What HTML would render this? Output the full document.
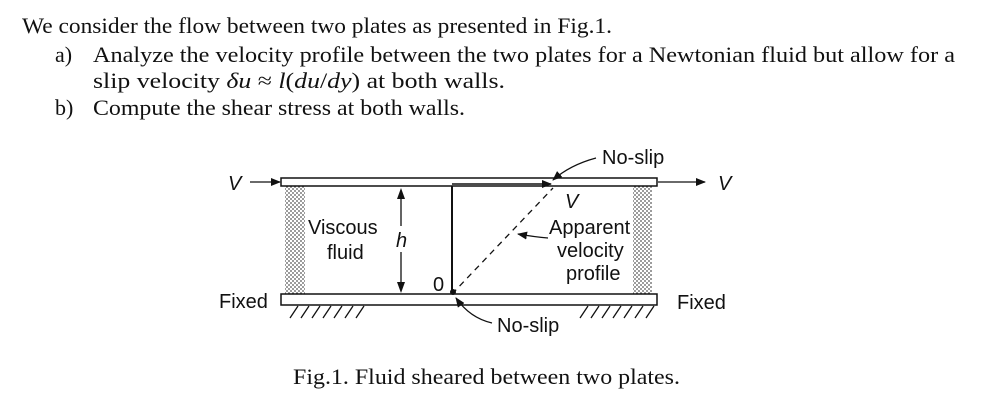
<!DOCTYPE html>
<html><head><meta charset="utf-8"><style>
html,body{margin:0;padding:0;background:#fff;}
svg{display:block}
.s{font-family:"Liberation Serif",serif;font-size:22px;fill:#111}
.d{font-family:"Liberation Sans",sans-serif;font-size:20px;fill:#111}
</style></head><body>
<svg width="1000" height="419" viewBox="0 0 1000 419" xmlns="http://www.w3.org/2000/svg">
<defs>
<pattern id="dots" width="4" height="4" patternUnits="userSpaceOnUse"><rect width="4" height="4" fill="#fff"/><circle cx="1" cy="1" r="0.9" fill="#555"/><circle cx="3" cy="3" r="0.9" fill="#555"/></pattern>
<marker id="ah" markerWidth="10" markerHeight="8" refX="9" refY="4" orient="auto" markerUnits="userSpaceOnUse"><path d="M0,0 L10,4 L0,8 Z" fill="#111"/></marker>
</defs>
<text class="s" x="22" y="33" textLength="590" lengthAdjust="spacingAndGlyphs">We consider the flow between two plates as presented in Fig.1.</text>
<text class="s" x="55" y="62">a)</text>
<text class="s" x="93" y="62" textLength="862" lengthAdjust="spacingAndGlyphs">Analyze the velocity profile between the two plates for a Newtonian fluid but allow for a</text>
<text class="s" x="93" y="88" textLength="412" lengthAdjust="spacingAndGlyphs">slip velocity <tspan font-style="italic">δu</tspan> ≈ <tspan font-style="italic">l</tspan>(<tspan font-style="italic">du</tspan>/<tspan font-style="italic">dy</tspan>) at both walls.</text>
<text class="s" x="55" y="115">b)</text>
<text class="s" x="93" y="115" textLength="372" lengthAdjust="spacingAndGlyphs">Compute the shear stress at both walls.</text>

<rect x="285" y="186" width="20" height="108" fill="url(#dots)"/>
<rect x="633" y="186" width="19" height="108" fill="url(#dots)"/>
<rect x="281" y="178" width="376" height="8" fill="#fff" stroke="#111" stroke-width="1.5"/>
<rect x="281" y="294" width="376" height="11" fill="#fff" stroke="#111" stroke-width="1.5"/>
<g stroke="#111" stroke-width="1.3">
<path d="M290,318 L298,306 M301,318 L309,306 M312,318 L320,306 M323,318 L331,306 M334,318 L342,306 M345,318 L353,306 M356,318 L364,306"/>
<path d="M580,318 L588,306 M591,318 L599,306 M602,318 L610,306 M613,318 L621,306 M624,318 L632,306 M635,318 L643,306 M646,318 L654,306"/>
</g>
<line x1="250" y1="182" x2="280" y2="182" stroke="#111" stroke-width="1.3" marker-end="url(#ah)"/>
<line x1="658" y1="182" x2="705" y2="182" stroke="#111" stroke-width="1.3" marker-end="url(#ah)"/>
<text class="d" x="228" y="190" font-style="italic">V</text>
<text class="d" x="718" y="190" font-style="italic">V</text>
<line x1="452" y1="186" x2="452" y2="294" stroke="#111" stroke-width="2"/>
<line x1="452" y1="184" x2="551" y2="184" stroke="#111" stroke-width="1.5" marker-end="url(#ah)"/>
<line x1="452" y1="294" x2="553" y2="188" stroke="#111" stroke-width="1.3" stroke-dasharray="6,5"/>
<circle cx="453" cy="292" r="3" fill="#111"/>
<line x1="401" y1="196" x2="401" y2="286" stroke="#111" stroke-width="1.3"/>
<path d="M401,188 L397,199 L405,199Z M401,293 L397,282 L405,282Z" fill="#111"/>
<rect x="394" y="226" width="16" height="26" fill="#fff"/>
<text class="d" x="396" y="247" font-style="italic">h</text>
<text class="d" x="308" y="234">Viscous</text>
<text class="d" x="327" y="259">fluid</text>
<text class="d" x="433" y="291">0</text>
<text class="d" x="565" y="208" font-style="italic">V</text>
<text class="d" x="549" y="234">Apparent</text>
<text class="d" x="557" y="257">velocity</text>
<text class="d" x="566" y="280">profile</text>
<text class="d" x="219" y="308">Fixed</text>
<text class="d" x="677" y="309">Fixed</text>
<text class="d" x="602" y="164">No-slip</text>
<text class="d" x="497" y="332">No-slip</text>
<path d="M596,158 Q570,165 553,180" fill="none" stroke="#111" stroke-width="1.2" marker-end="url(#ah)"/>
<path d="M548,238 Q535,237 518,234" fill="none" stroke="#111" stroke-width="1.2" marker-end="url(#ah)"/>
<path d="M492,323 Q470,318 456,298" fill="none" stroke="#111" stroke-width="1.2" marker-end="url(#ah)"/>
<text class="s" x="293" y="384" textLength="387" lengthAdjust="spacingAndGlyphs">Fig.1. Fluid sheared between two plates.</text>
</svg>
</body></html>
